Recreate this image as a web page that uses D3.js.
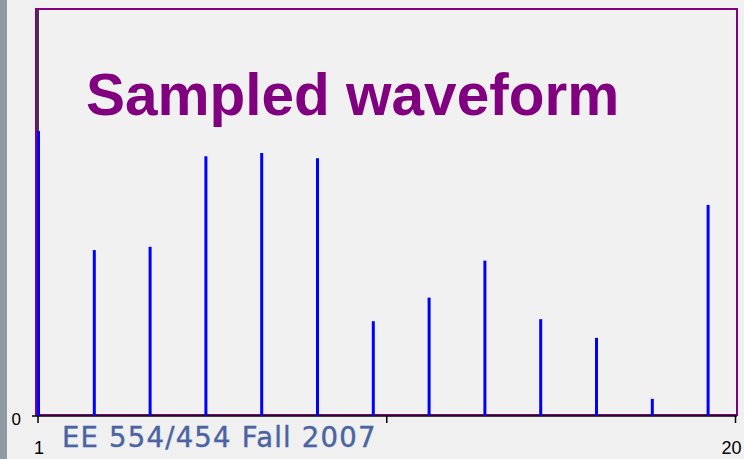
<!DOCTYPE html>
<html>
<head>
<meta charset="utf-8">
<script src="https://cdn.jsdelivr.net/npm/d3@7"></script>
<style>
  html, body { margin: 0; padding: 0; background: #f0f0f0; }
  svg { display: block; }
</style>
</head>
<body>
<svg id="chart" width="744" height="459"></svg>
<script>
// ---- data ----
const sampleX = [1, 2.52, 4.04, 5.56, 7.08, 8.6, 10.12, 11.64, 13.16, 14.68, 16.2, 17.72, 19.24];
const sampleY = [0.70, 0.407, 0.415, 0.638, 0.646, 0.633, 0.232, 0.290, 0.381, 0.237, 0.191, 0.041, 0.518];
const xTicks = [1, 10.5, 20];
const xTickLabels = ["1", "", "20"];
const yTicks = [0];
const yTickLabels = ["0"];
const titleText = "Sampled waveform";
const footerText = "EE 554/454 Fall 2007";

// ---- layout ----
const W = 744, H = 459;
const plot = { left: 37.5, right: 735, top: 9, bottom: 415.5 };

const svg = d3.select("#chart");

// left textured strip
svg.append("rect").attr("x", 0).attr("y", 0).attr("width", 7).attr("height", H).attr("fill", "#8f9aa2");

const x = d3.scaleLinear().domain([1, 20]).range([plot.left, plot.right]);
const y = d3.scaleLinear().domain([0, 1]).range([plot.bottom, plot.top]);

// plot frame (purple)
svg.append("rect")
  .attr("x", 36).attr("y", 9)
  .attr("width", 737 - 36).attr("height", 415 - 9)
  .attr("fill", "#f1f1f1")
  .attr("stroke", "#800080").attr("stroke-width", 2);

// x axis
const xAxis = d3.axisBottom(x)
  .tickValues(xTicks)
  .tickFormat((d, i) => xTickLabels[i])
  .tickSize(7).tickSizeOuter(0).tickPadding(18);
const gx = svg.append("g").attr("transform", `translate(0,${plot.bottom + 0.5})`).call(xAxis);
gx.attr("font-size", null).attr("font-family", null);
gx.select(".domain").attr("stroke", "#000").attr("stroke-width", 1.5).attr("d", `M${plot.left},0H737`);
gx.selectAll(".tick line").attr("stroke", "#000").attr("stroke-width", 1.5);
gx.selectAll(".tick text")
  .style("font-family", "Liberation Sans, Arial, sans-serif")
  .style("font-size", "18px").attr("fill", "#000")
  .attr("dx", (d, i) => i === 2 ? -4 : 1);

// y axis
const yAxis = d3.axisLeft(y)
  .tickValues(yTicks)
  .tickFormat((d, i) => yTickLabels[i])
  .tickSize(6).tickSizeOuter(0).tickPadding(11);
const gy = svg.append("g").attr("transform", `translate(${plot.left + 0.5},0)`).call(yAxis);
gy.attr("font-size", null).attr("font-family", null);
gy.select(".domain").attr("stroke", "#000").attr("stroke-width", 1.5).attr("d", `M0,${plot.top + 1}V${plot.bottom}`);
gy.selectAll(".tick line").attr("stroke", "#000").attr("stroke-width", 1.5);
gy.selectAll(".tick text")
  .style("font-family", "Liberation Sans, Arial, sans-serif")
  .style("font-size", "17px").attr("fill", "#000")
  .attr("dy", "0.55em");

// stems
svg.append("g").selectAll("line")
  .data(sampleX.map((v, i) => ({ x: v, y: sampleY[i] })))
  .join("line")
  .attr("x1", d => x(d.x) + 1).attr("x2", d => x(d.x) + 1)
  .attr("y1", y(0)).attr("y2", d => y(d.y))
  .attr("stroke", "#0000ff").attr("stroke-width", 3);

// title
svg.append("text")
  .attr("x", 86).attr("y", 115)
  .attr("font-family", "Liberation Sans, Arial, sans-serif")
  .attr("font-weight", "bold").attr("font-size", 58.5)
  .attr("fill", "#800080")
  .text(titleText);

// footer
svg.append("text")
  .attr("x", 62).attr("y", 447)
  .attr("font-family", "DejaVu Sans, Verdana, sans-serif")
  .attr("font-size", 27.5).attr("letter-spacing", 1.2)
  .attr("fill", "#4a63a3").attr("stroke", "#4a63a3").attr("stroke-width", 0.4)
  .text(footerText);
</script>
</body>
</html>
